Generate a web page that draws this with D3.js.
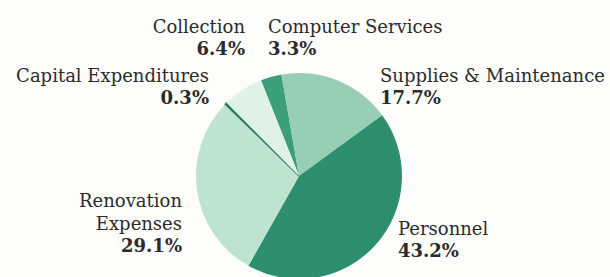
<!DOCTYPE html>
<html lang="en">
  <head>
    <meta charset="UTF-8" />
    <title>Expenditures</title>
    <script src="https://d3js.org/d3.v7.min.js"></script>
    <style>
      body {
        margin: 0;
        background-color: #fdfdfb;
      }
      svg {
        display: block;
        font-family: "DejaVu Serif", "Liberation Serif", serif;
      }
      text {
        fill: #2b2b2b;
      }
      .name {
        font-size: 18px;
      }
      .pct {
        font-size: 18px;
        font-weight: bold;
      }
    </style>
  </head>
  <body>
    <svg id="chart"></svg>
    <script>
      // slices, clockwise from Computer Services
      const categories = [
        "Computer Services",
        "Supplies & Maintenance",
        "Personnel",
        "Renovation Expenses",
        "Capital Expenditures",
        "Collection",
      ];
      const values = [3.3, 17.7, 43.2, 29.1, 0.3, 6.4];
      const colors = ["#3d9e7c", "#98cdb6", "#2e8f6f", "#bfe3d1", "#2c7a5e", "#e0f2e8"];

      // label placement: x, y of first line, anchor, line breaks
      const labelLayout = {
        "Computer Services": { x: 268, y: 33, anchor: "start", lines: ["Computer Services"] },
        "Supplies & Maintenance": { x: 380, y: 82, anchor: "start", lines: ["Supplies & Maintenance"] },
        Personnel: { x: 398, y: 235, anchor: "start", lines: ["Personnel"] },
        "Renovation Expenses": { x: 182, y: 207, anchor: "end", lines: ["Renovation", "Expenses"] },
        "Capital Expenditures": { x: 209, y: 82, anchor: "end", lines: ["Capital Expenditures"] },
        Collection: { x: 245, y: 33, anchor: "end", lines: ["Collection"] },
      };

      const width = 610;
      const height = 277;
      const cx = 299;
      const cy = 176;
      const radius = 103;
      const lineH = 23;

      const svg = d3.select("#chart").attr("width", width).attr("height", height);

      const data = categories.map((c, i) => ({ name: c, value: values[i], color: colors[i] }));

      const startAngle = (-21.7 * Math.PI) / 180;
      const pie = d3
        .pie()
        .sort(null)
        .value((d) => d.value)
        .startAngle(startAngle)
        .endAngle(startAngle + 2 * Math.PI);

      const arc = d3.arc().innerRadius(0).outerRadius(radius);

      const g = svg.append("g").attr("transform", `translate(${cx},${cy})`);

      g.selectAll("path")
        .data(pie(data))
        .enter()
        .append("path")
        .attr("d", arc)
        .attr("fill", (d) => d.data.color)
        .attr("stroke", (d) => (d.data.value < 1 ? d.data.color : "none"))
        .attr("stroke-width", 1.2);

      data.forEach((d) => {
        const lay = labelLayout[d.name];
        const t = svg
          .append("g")
          .attr("transform", `translate(${lay.x},${lay.y})`)
          .attr("text-anchor", lay.anchor);
        lay.lines.forEach((line, i) => {
          t.append("text").attr("class", "name").attr("y", i * lineH).text(line);
        });
        t.append("text")
          .attr("class", "pct")
          .attr("y", lay.lines.length * lineH - 1)
          .text(d3.format(".1f")(d.value) + "%");
      });
    </script>
  </body>
</html>
